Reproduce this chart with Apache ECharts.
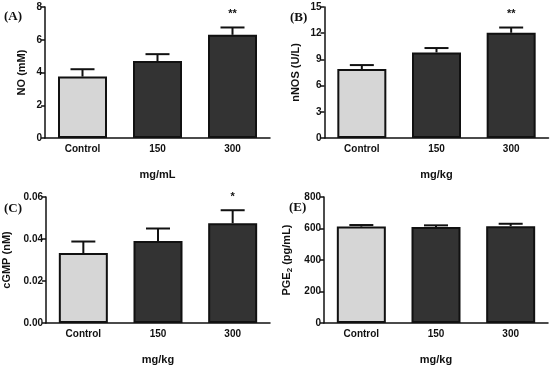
<!DOCTYPE html>
<html lang="en">
<head>
<meta charset="UTF-8">
<title>NO / nNOS / cGMP / PGE2</title>
<script src="https://cdn.jsdelivr.net/npm/echarts@6/dist/echarts.min.js"></script>
<style>
  html, body { margin: 0; padding: 0; background: #fff; }
  #main { width: 553px; height: 366px; }
</style>
</head>
<body>
<div id="main"></div>
<script type="text/javascript">
// groups on the x axis
var categories = ['Control', '150', '300'];

// panel (A) NO
var noMean = [3.75, 4.7, 6.3];
var noUpper = [4.2, 5.12, 6.75];
var noMarks = ['', '', '**'];

// panel (B) nNOS
var nnosMean = [7.9, 9.8, 12.05];
var nnosUpper = [8.35, 10.3, 12.65];
var nnosMarks = ['', '', '**'];

// panel (C) cGMP
var cgmpMean = [0.0333, 0.039, 0.0475];
var cgmpUpper = [0.0388, 0.045, 0.0537];
var cgmpMarks = ['', '', '*'];

// panel (E) PGE2
var pgeMean = [612, 610, 615];
var pgeUpper = [622, 620, 630];
var pgeMarks = ['', '', ''];

var panels = [
  { tag: '(A)', yName: 'NO (mM)', xName: 'mg/mL', max: 8, step: 2, digits: 0, mean: noMean, upper: noUpper, marks: noMarks },
  { tag: '(B)', yName: 'nNOS (U/L)', xName: 'mg/kg', max: 15, step: 3, digits: 0, mean: nnosMean, upper: nnosUpper, marks: nnosMarks },
  { tag: '(C)', yName: 'cGMP (nM)', xName: 'mg/kg', max: 0.06, step: 0.02, digits: 2, mean: cgmpMean, upper: cgmpUpper, marks: cgmpMarks },
  { tag: '(E)', yName: 'PGE{sub|2} (pg/mL)', xName: 'mg/kg', max: 800, step: 200, digits: 0, mean: pgeMean, upper: pgeUpper, marks: pgeMarks }
];

// layout per panel
var grids = [
  { left: 45, top: 7, width: 225, height: 131 },
  { left: 324.5, top: 7, width: 224, height: 131 },
  { left: 45, top: 197, width: 225, height: 131 },
  { left: 324, top: 197, width: 224, height: 130 }
];
var tagPos = [[4, 10], [290, 11], [4, 202], [289, 201]];
var yNameGap = [18, 23, 34, 30];

var fontFam = 'Liberation Sans, Arial, sans-serif';
var lightFill = '#d6d6d6';
var darkFill = '#333333';

var option = {
  animation: false,
  backgroundColor: '#fff',
  title: [],
  grid: [],
  xAxis: [],
  yAxis: [],
  series: []
};

panels.forEach(function (p, i) {
  option.grid.push(grids[i]);
  option.title.push({
    text: p.tag, left: tagPos[i][0], top: tagPos[i][1], padding: 0,
    textStyle: { fontFamily: 'Liberation Serif, Times New Roman, serif', fontWeight: 'bold', fontSize: 13, color: '#111' }
  });
  option.xAxis.push({
    type: 'category', gridIndex: i, data: categories,
    name: p.xName, nameLocation: 'middle', nameGap: 31,
    nameTextStyle: { fontFamily: fontFam, fontWeight: 'bold', fontSize: 11, color: '#111' },
    axisLine: { lineStyle: { color: '#111', width: 1.5 } },
    axisTick: { alignWithLabel: true, length: 3, lineStyle: { color: '#111', width: 1.5 } },
    axisLabel: { fontFamily: fontFam, fontWeight: 'bold', fontSize: 10, color: '#111', margin: 6 }
  });
  option.yAxis.push({
    type: 'value', gridIndex: i, min: 0, max: p.max, interval: p.step,
    name: p.yName, nameLocation: 'middle', nameGap: yNameGap[i],
    nameTextStyle: {
      fontFamily: fontFam, fontWeight: 'bold', fontSize: 11, color: '#111',
      rich: { sub: { fontFamily: fontFam, fontWeight: 'bold', fontSize: 8, color: '#111', verticalAlign: 'bottom', padding: [6, 0, 0, 0] } }
    },
    axisLine: { show: true, lineStyle: { color: '#111', width: 1.5 } },
    axisTick: { show: true, length: 4, lineStyle: { color: '#111', width: 1.5 } },
    axisLabel: {
      fontFamily: fontFam, fontWeight: 'bold', fontSize: 10, color: '#111', margin: 3,
      formatter: function (v) { return v.toFixed(p.digits); }
    },
    splitLine: { show: false }
  });
  option.series.push({
    type: 'bar', xAxisIndex: i, yAxisIndex: i, barWidth: 49,
    data: p.mean.map(function (v, k) {
      return { value: v, itemStyle: { color: k === 0 ? lightFill : darkFill } };
    }),
    itemStyle: { borderColor: '#111', borderWidth: 2 }
  });
  // upper error bars with caps, plus significance stars
  option.series.push({
    type: 'custom', xAxisIndex: i, yAxisIndex: i, z: 3,
    data: p.mean.map(function (v, k) { return [k, v, p.upper[k]]; }),
    renderItem: function (params, api) {
      var base = api.coord([api.value(0), api.value(1)]);
      var top = api.coord([api.value(0), api.value(2)]);
      var mark = p.marks[params.dataIndex];
      var kids = [
        { type: 'line', shape: { x1: base[0], y1: base[1], x2: top[0], y2: top[1] }, style: { stroke: '#111', lineWidth: 2 } },
        { type: 'line', shape: { x1: top[0] - 12, y1: top[1], x2: top[0] + 12, y2: top[1] }, style: { stroke: '#111', lineWidth: 2 } }
      ];
      if (mark) {
        kids.push({
          type: 'text',
          style: { text: mark, x: top[0], y: top[1] - 8, align: 'center', verticalAlign: 'bottom', fontFamily: fontFam, fontWeight: 'bold', fontSize: 11, fill: '#111' }
        });
      }
      return { type: 'group', children: kids };
    }
  });
});

var myChart = echarts.init(document.getElementById('main'), null, { renderer: 'canvas' });
myChart.setOption(option);
</script>
</body>
</html>
